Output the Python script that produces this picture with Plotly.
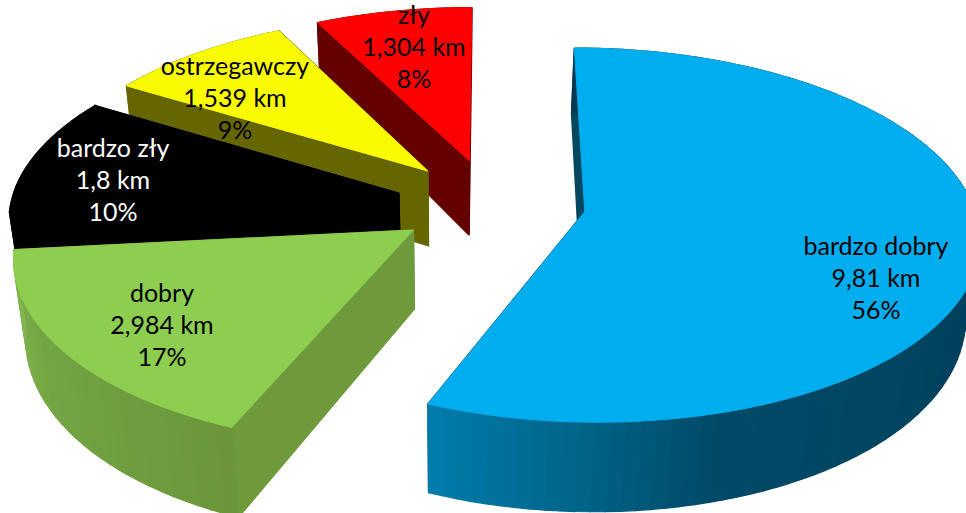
import math
import plotly.graph_objects as go

# ---- data ----
categories = ["bardzo dobry", "dobry", "bardzo zły", "ostrzegawczy", "zły"]
lengths_km = [9.81, 2.984, 1.8, 1.539, 1.304]
percent_labels = [56, 17, 10, 9, 8]

# ---- style ----
top_colors = ["#00AEEF", "#8DCD50", "#000000", "#FBFB00", "#FF0000"]
cut_colors = ["#00485F", "#6E9A3B", "#000000", "#666600", "#640000"]
wall_stops = [
    [(0, "#003A52"), (100, "#003F5A"), (165, "#004A68"), (182, "#006488"), (202, "#007CAB")],
    [(202, "#6B963A"), (240, "#74A543"), (263, "#82B54F")],
    [(0, "#000000"), (360, "#000000")],
    [(0, "#666600"), (360, "#666600")],
    [(0, "#640000"), (360, "#640000")],
]
label_colors = ["#000000", "#000000", "#FFFFFF", "#000000", "#000000"]
label_anchor = [(876, 249), (162, 296), (113, 151), (235, 69), (414, 18)]
LINE_H = 32

# projection constants (pixels of the 966x513 canvas)
CX, CY = 491, 203
A, B, K = 388, 182, 0.124
EXPLODE = 0.245
VX = 450


def project(x, y):
    w = 1 + K * y
    return CX + A * x / w, CY - B * y / w


def bottom(x, y):
    sx, sy = project(x, y)
    d = 77 - 12 * y
    return sx + (VX - sx) * 0.03 * d / 87, sy + d


def hexmix(stops, t):
    t = max(stops[0][0], min(stops[-1][0], t))
    for (t0, c0), (t1, c1) in zip(stops, stops[1:]):
        if t0 <= t <= t1:
            f = (t - t0) / (t1 - t0 or 1)
            rgb = [round(int(c0[i:i+2], 16) * (1 - f) + int(c1[i:i+2], 16) * f) for i in (1, 3, 5)]
            return "#%02X%02X%02X" % tuple(rgb)
    return stops[-1][1]


def poly(fig, pts, color, lw=1.2):
    fig.add_trace(go.Scatter(
        x=[p[0] for p in pts] + [pts[0][0]], y=[p[1] for p in pts] + [pts[0][1]],
        mode="lines", fill="toself", fillcolor=color,
        line=dict(color=color, width=lw, simplify=False), hoverinfo="skip", showlegend=False))


fig = go.Figure()
total = sum(lengths_km)
spans, cum = [], 0.0
for v in lengths_km:
    spans.append((cum / total * 360, (cum + v) / total * 360))
    cum += v

for idx in [4, 3, 2, 1, 0]:
    t1, t2 = spans[idx]
    mid = math.radians((t1 + t2) / 2)
    ox, oy = EXPLODE * math.sin(mid), EXPLODE * math.cos(mid)
    def world(t):
        r = math.radians(t)
        return ox + math.sin(r), oy + math.cos(r)
    n = max(8, int((t2 - t1) / 2))
    ts = [t1 + (t2 - t1) * i / n for i in range(n + 1)]
    ap = (ox, oy)
    # cut walls first, outer wall over them
    for t in (t2, t1):
        e = world(t)
        poly(fig, [project(*ap), project(*e), bottom(*e), bottom(*ap)], cut_colors[idx], 1.5)
    for a0, a1 in zip(ts, ts[1:]):
        p0, p1 = world(a0), world(a1)
        poly(fig, [project(*p0), project(*p1), bottom(*p1), bottom(*p0)],
             hexmix(wall_stops[idx], (a0 + a1) / 2))
    # top face
    poly(fig, [project(*ap)] + [project(*world(t)) for t in ts], top_colors[idx], 1)

# labels
tx, ty, tt, tc = [], [], [], []
for i, cat in enumerate(categories):
    km = f"{lengths_km[i]:g}".replace(".", ",") + " km"
    for j, line in enumerate([cat, km, f"{percent_labels[i]}%"]):
        tx.append(label_anchor[i][0])
        ty.append(label_anchor[i][1] + j * LINE_H)
        tt.append(line)
        tc.append(label_colors[i])
fig.add_trace(go.Scatter(x=tx, y=ty, text=tt, mode="text", textposition="middle center",
                         textfont=dict(family="Lato", size=25, color=tc),
                         hoverinfo="skip", showlegend=False))

fig.update_layout(
    width=966, height=513, margin=dict(l=0, r=0, t=0, b=0),
    paper_bgcolor="white", plot_bgcolor="white",
    xaxis=dict(range=[0, 966], visible=False, fixedrange=True),
    yaxis=dict(range=[513, 0], visible=False, fixedrange=True),
)
fig.write_html("out.html", post_script="document.body.style.margin='0';", config={"displayModeBar": False})
